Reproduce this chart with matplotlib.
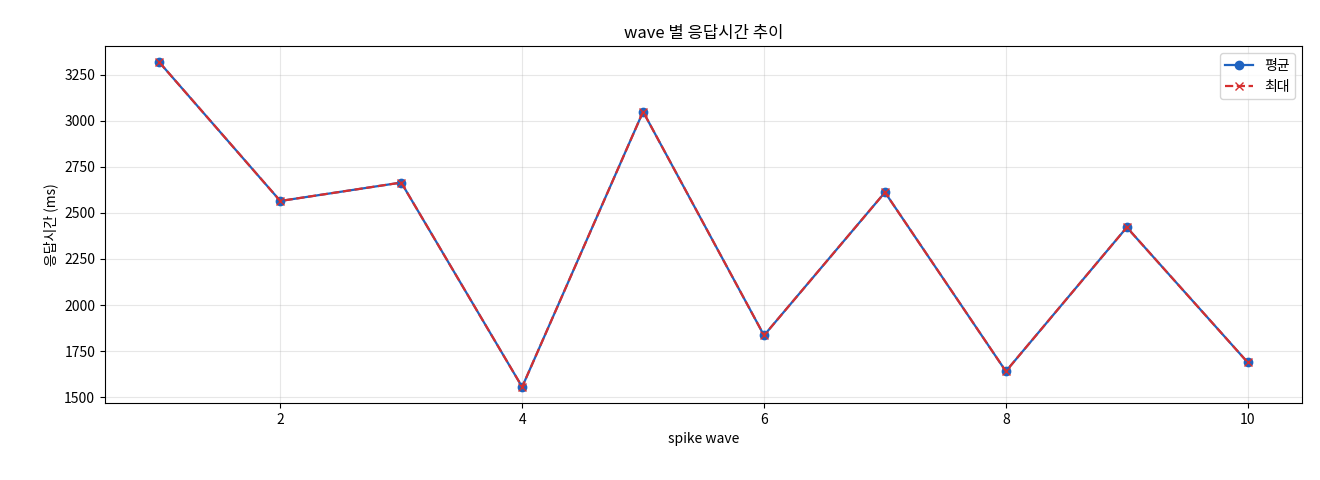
import matplotlib
matplotlib.use("Agg")
import matplotlib.pyplot as plt

plt.rcParams['font.family'] = ['Noto Sans CJK KR', 'DejaVu Sans']

waves = [1, 2, 3, 4, 5, 6, 7, 8, 9, 10]
avg_ms = [3318, 2565, 2665, 1555, 3050, 1835, 2612, 1640, 2422, 1688]
max_ms = [3318, 2565, 2665, 1555, 3050, 1835, 2612, 1640, 2422, 1688]

fig = plt.figure(figsize=(13.2, 4.8), dpi=100)
ax = fig.add_axes([0.0795, 0.16, 0.907, 0.744])
ax.plot(waves, avg_ms, '-o', color='#1f63c0', label='평균', markersize=6, linewidth=1.6)
ax.plot(waves, max_ms, '--x', color='#d62f2f', label='최대', markersize=6, linewidth=1.6)
ax.set_title('wave 별 응답시간 추이', fontsize=12)
ax.set_xlabel('spike wave', fontsize=10)
ax.set_ylabel('응답시간 (ms)', fontsize=10)
ax.set_xticks([2, 4, 6, 8, 10])
ax.grid(True, alpha=0.3)
ax.legend(loc='upper right')
fig.savefig('out.png', dpi=100)
